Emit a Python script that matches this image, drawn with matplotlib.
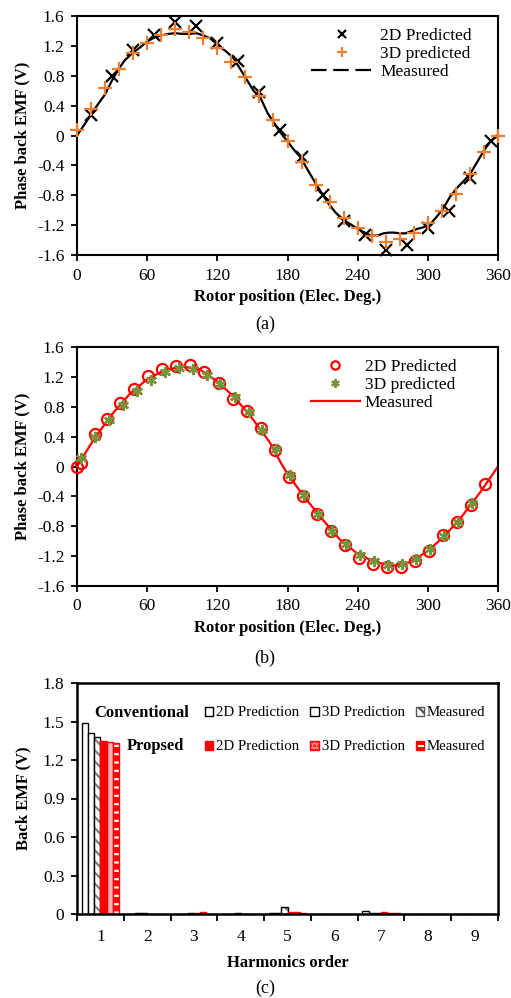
import numpy as np
import matplotlib
matplotlib.use('Agg')
import matplotlib.pyplot as plt
from matplotlib.lines import Line2D
from matplotlib.patches import Patch

plt.rcParams['font.family'] = ['Liberation Serif', 'DejaVu Serif']
plt.rcParams['hatch.linewidth'] = 1.6

# (a) conventional machine back EMF
a_2d_x = [12, 30, 48, 66, 84, 102, 120, 138, 156, 174, 192, 210, 228, 246, 264, 282, 300, 318, 336, 354]
a_2d_y = [0.28, 0.80, 1.15, 1.34, 1.52, 1.46, 1.24, 1.00, 0.58, 0.08, -0.29, -0.80, -1.15, -1.33, -1.53, -1.47, -1.24, -1.01, -0.57, -0.08]
a_3d_x = [0, 12, 24, 36, 48, 60, 72, 84, 96, 108, 120, 132, 144, 156, 168, 180, 192, 204, 216, 228, 240, 252, 264, 276, 288, 300, 312, 324, 336, 348, 360]
a_3d_y = [0.07, 0.35, 0.64, 0.89, 1.10, 1.24, 1.35, 1.42, 1.39, 1.30, 1.17, 0.99, 0.78, 0.53, 0.21, -0.07, -0.36, -0.66, -0.89, -1.11, -1.24, -1.35, -1.43, -1.39, -1.31, -1.17, -1.01, -0.78, -0.52, -0.22, 0.0]
a_meas_x = [0, 6, 12, 18, 24, 30, 36, 41, 48, 54, 60, 66, 72, 78, 84, 90, 96, 102, 108, 114, 122, 128, 134, 140, 145, 151, 157, 163, 168, 174,
            180, 186, 191, 198, 204, 210, 215, 221, 227, 233, 239, 245, 251, 257, 262, 267, 271, 276, 281, 286, 291, 296, 302, 308, 313, 319,
            325, 330, 336, 342, 348, 354, 360]
a_meas_y = [0.0, 0.14, 0.28, 0.42, 0.55, 0.74, 0.90, 1.01, 1.11, 1.18, 1.26, 1.31, 1.34, 1.36, 1.37, 1.36, 1.36, 1.37, 1.34, 1.30, 1.19, 1.12, 1.03, 0.88,
            0.75, 0.60, 0.50, 0.30, 0.18, 0.04, -0.08, -0.20, -0.29, -0.48, -0.64, -0.79, -0.91, -1.03, -1.12, -1.18, -1.24, -1.29, -1.34, -1.34,
            -1.31, -1.30, -1.30, -1.31, -1.31, -1.28, -1.25, -1.23, -1.19, -1.08, -0.98, -0.82, -0.70, -0.62, -0.52, -0.36, -0.20, -0.07, 0.0]

# (b) proposed machine back EMF
b_2d_x = [0, 3, 15, 26, 37, 49, 61, 73, 85, 97, 109, 121, 133, 145, 157, 169, 181, 193, 205, 217, 229, 241, 253, 265, 277, 289, 301, 313, 325, 337, 349]
b_2d_y = [0.0, 0.05, 0.43, 0.63, 0.85, 1.04, 1.21, 1.30, 1.34, 1.36, 1.27, 1.12, 0.90, 0.74, 0.51, 0.22, -0.14, -0.39, -0.64, -0.87, -1.05, -1.22, -1.30, -1.34, -1.35, -1.26, -1.13, -0.92, -0.74, -0.52, -0.24]
b_3d_x = [3, 15, 27, 39, 51, 63, 75, 87, 99, 111, 122, 135, 147, 158, 170, 182, 194, 206, 218, 230, 242, 254, 266, 278, 290, 302, 314, 326, 338]
b_3d_y = [0.12, 0.39, 0.62, 0.83, 1.01, 1.16, 1.27, 1.32, 1.30, 1.23, 1.10, 0.93, 0.73, 0.49, 0.23, -0.12, -0.38, -0.63, -0.86, -1.04, -1.19, -1.27, -1.32, -1.30, -1.24, -1.11, -0.93, -0.74, -0.49]
b_meas_x = [0, 15, 30, 45, 60, 75, 90, 105, 120, 135, 150, 165, 175, 180, 195, 210, 225, 240, 255, 270, 285, 300, 315, 330, 345, 360]
b_meas_y = [0.0, 0.38, 0.70, 0.97, 1.17, 1.29, 1.34, 1.30, 1.14, 0.92, 0.64, 0.32, 0.03, -0.10, -0.42, -0.71, -0.98, -1.17, -1.28, -1.33, -1.28, -1.13, -0.92, -0.65, -0.34, 0.0]

# (c) harmonic spectrum
harmonics = [1, 2, 3, 4, 5, 6, 7, 8, 9]
conv_2d = [1.49, 0.003, 0.002, 0.002, 0.008, 0.001, 0.020, 0.001, 0.001]
conv_3d = [1.41, 0.004, 0.003, 0.003, 0.004, 0.002, 0.006, 0.002, 0.001]
conv_meas = [1.38, 0.009, 0.004, 0.005, 0.052, 0.002, 0.006, 0.002, 0.002]
prop_2d = [1.35, 0.002, 0.006, 0.002, 0.012, 0.001, 0.012, 0.001, 0.001]
prop_3d = [1.34, 0.003, 0.014, 0.002, 0.012, 0.003, 0.010, 0.003, 0.003]
prop_meas = [1.33, 0.002, 0.003, 0.003, 0.006, 0.002, 0.004, 0.002, 0.002]

orange = '#ED7D31'
olive = '#77933C'
red = '#FF0000'

fig = plt.figure(figsize=(5.11, 9.98), dpi=100)
W, H = 511.0, 998.0


def box(l, t, r, b):
    return [l / W, 1 - b / H, (r - l) / W, (b - t) / H]


def style_wave(ax):
    ax.set_xlim(0, 360)
    ax.set_ylim(-1.6, 1.6)
    ax.set_xticks(np.arange(0, 361, 60))
    ax.set_yticks(np.arange(-1.6, 1.61, 0.4))
    ax.set_yticklabels(['-1.6', '-1.2', '-0.8', '-0.4', '0', '0.4', '0.8', '1.2', '1.6'])
    ax.tick_params(direction='out', length=4, width=1.3, labelsize=12.5, pad=5)
    for s in ax.spines.values():
        s.set_linewidth(1.5)
    ax.set_xlabel('Rotor position (Elec. Deg.)', fontsize=12, fontweight='bold', labelpad=4)
    ax.set_ylabel('Phase back EMF (V)', fontsize=12, fontweight='bold', labelpad=5)


# ---- (a)
ax1 = fig.add_axes(box(77, 16, 498, 255))
ax1.plot(a_meas_x, a_meas_y, color='black', lw=1.6, zorder=2)
ax1.plot(a_2d_x, a_2d_y, ls='none', marker='x', ms=8, mew=1.6, color='black', zorder=3, clip_on=False)
ax1.plot(a_3d_x, a_3d_y, ls='none', marker='+', ms=10, mew=1.6, color=orange, zorder=4, clip_on=False)
style_wave(ax1)
h_a = [Line2D([], [], ls='none', marker='x', ms=6, mew=1.6, color='black'),
       Line2D([], [], ls='none', marker='+', ms=7, mew=1.6, color=orange),
       Line2D([], [], color='black', lw=1.6, dashes=(7, 3))]
ax1.legend(h_a, ['2D Predicted', '3D predicted', 'Measured'], loc='upper right', frameon=False,
           fontsize=12.5, handlelength=3.6, handletextpad=0.4, labelspacing=0.1,
           bbox_to_anchor=(0.967, 1.0), borderaxespad=0.3)
fig.text(265 / W, 1 - 324 / H, '(a)', ha='center', va='center', fontsize=13)

# ---- (b)
ax2 = fig.add_axes(box(77, 347, 498, 586))
ax2.plot(b_meas_x, b_meas_y, color=red, lw=1.6, zorder=2)
ax2.plot(b_2d_x, b_2d_y, ls='none', marker='o', ms=8, mew=1.6, mfc='none', color=red, zorder=3, clip_on=False)
ax2.plot(b_3d_x, b_3d_y, ls='none', marker=(6, 2, 0), ms=8, mew=1.6, color=olive, zorder=4, clip_on=False)
style_wave(ax2)
h_b = [Line2D([], [], ls='none', marker='o', ms=6, mew=1.6, mfc='none', color=red),
       Line2D([], [], ls='none', marker=(6, 2, 0), ms=6, mew=1.6, color=olive),
       Line2D([], [], color=red, lw=1.6)]
ax2.legend(h_b, ['2D Predicted', '3D predicted', 'Measured'], loc='upper right', frameon=False,
           fontsize=12.5, handlelength=2.8, handletextpad=0.3, labelspacing=0.1,
           bbox_to_anchor=(0.93, 1.0), borderaxespad=0.3)
fig.text(265 / W, 1 - 658 / H, '(b)', ha='center', va='center', fontsize=13)

# ---- (c)
ax3 = fig.add_axes(box(77, 683, 498, 914))
x = np.array(harmonics, dtype=float)
bw = 0.133
offs = (np.arange(6) - 2.5) * bw
ax3.bar(x + offs[0], conv_2d, bw, color='white', edgecolor='black', lw=1.0)
ax3.bar(x + offs[1], conv_3d, bw, color='white', edgecolor='black', lw=1.0)
ax3.bar(x + offs[2], conv_meas, bw, color='white', edgecolor='#808080', hatch='\\\\\\', lw=0)
ax3.bar(x + offs[2], conv_meas, bw, fill=False, edgecolor='black', lw=1.0)
ax3.bar(x + offs[3], prop_2d, bw, color=red, edgecolor=red, lw=1.0)
ax3.bar(x + offs[4], prop_3d, bw, color='#FFB0B0', edgecolor=red, lw=1.0)
ax3.bar(x + offs[5], prop_meas, bw, color=red, edgecolor='white', hatch='--', lw=0)
ax3.bar(x + offs[5], prop_meas, bw, fill=False, edgecolor=red, lw=1.0)
ax3.set_xlim(0.5, 9.5)
ax3.set_ylim(0, 1.8)
ax3.set_yticks(np.arange(0, 1.81, 0.3))
ax3.set_yticklabels(['0', '0.3', '0.6', '0.9', '1.2', '1.5', '1.8'])
ax3.set_xticks(harmonics)
ax3.set_xticks(np.arange(0.5, 9.6, 1.0), minor=True)
ax3.tick_params(axis='x', which='major', length=0, labelsize=12.5, pad=11)
ax3.tick_params(axis='x', which='minor', direction='out', length=5, width=1.3)
ax3.tick_params(axis='y', direction='out', length=4, width=1.3, labelsize=12.5, pad=5)
for s in ax3.spines.values():
    s.set_linewidth(1.8)
ax3.set_xlabel('Harmonics order', fontsize=12, fontweight='bold', labelpad=7)
ax3.set_ylabel('Back EMF (V)', fontsize=12, fontweight='bold', labelpad=8)

fig.text(94 / W, 1 - 713 / H, 'Conventional', ha='left', va='center', fontsize=12, fontweight='bold')
fig.text(127 / W, 1 - 746 / H, 'Propsed', ha='left', va='center', fontsize=12, fontweight='bold')

h_conv = [Patch(facecolor='white', edgecolor='black', lw=1.0),
          Patch(facecolor='white', edgecolor='black', lw=1.0),
          Patch(facecolor='white', edgecolor='#555555', hatch='\\\\\\', lw=1.0)]
h_prop = [Patch(facecolor=red, edgecolor=red, lw=1.0),
          Patch(facecolor='#FF9090', edgecolor=red, hatch='....', lw=1.0),
          Patch(facecolor=red, edgecolor=red, lw=1.0)]
labels = ['2D Prediction', '3D Prediction', 'Measured']
for hs, yy in [(h_conv, 713), (h_prop, 747)]:
    fig.legend(hs, labels, loc='center left', bbox_to_anchor=(205 / W, 1 - yy / H), ncol=3,
               frameon=False, fontsize=10.7, handlelength=0.55, handleheight=0.55,
               handletextpad=0.2, columnspacing=0.75, borderpad=0, borderaxespad=0)
# white stripe across the proposed "Measured" key
fig.patches.append(plt.Rectangle((417.5 / W, 1 - 747 / H), 6 / W, 1.6 / H, transform=fig.transFigure,
                                 facecolor='white', edgecolor='none', zorder=8))
fig.text(265 / W, 1 - 988 / H, '(c)', ha='center', va='center', fontsize=13)

fig.savefig('out.png', dpi=100)
